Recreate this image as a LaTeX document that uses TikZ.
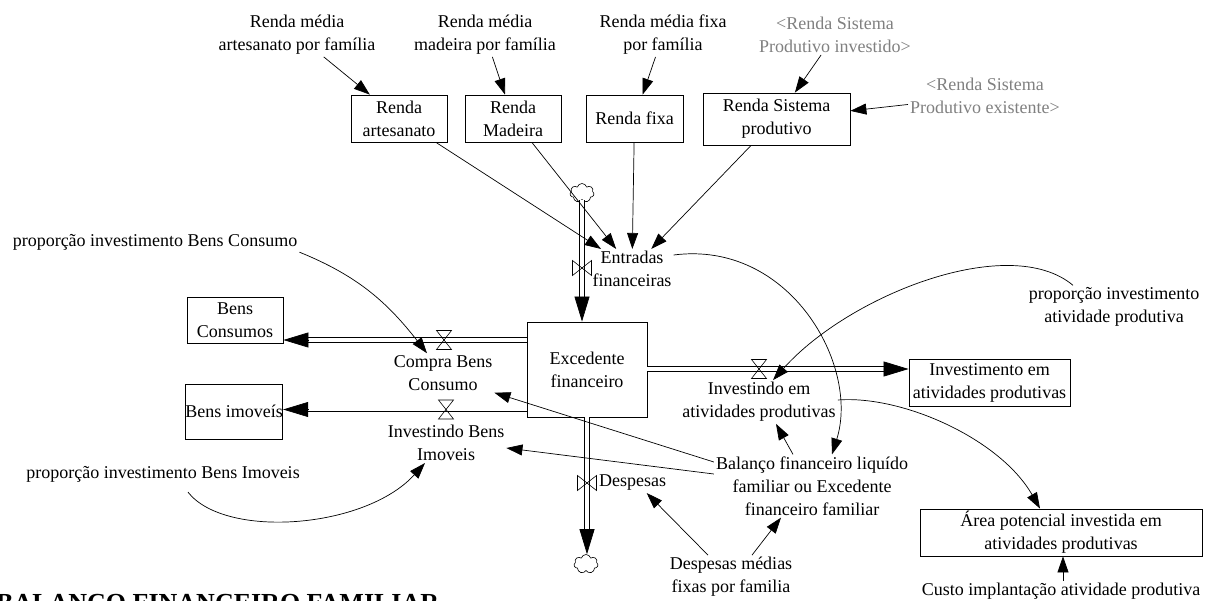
\documentclass[tikz,border=0pt]{standalone}
\usepackage{fontspec}
\setmainfont{Liberation Serif}
\usetikzlibrary{arrows.meta,shapes.symbols,calc}
\definecolor{vgray}{RGB}{128,128,128}
\tikzset{
 valveh/.pic={\draw[line width=0.6pt] (-7.5,9.5) -- (7.5,9.5) -- (-7.5,-9.5) -- (7.5,-9.5) -- cycle;},
 valvev/.pic={\draw[line width=0.6pt] (-9.5,7.5) -- (-9.5,-7.5) -- (9.5,7.5) -- (9.5,-7.5) -- cycle;}
}
\begin{document}
\begin{tikzpicture}[x=1pt,y=1pt,
  every node/.style={font=\fontsize{18}{23}\selectfont, align=center, inner sep=2pt},
  ghost/.style={text=vgray},
  stock/.style={draw, line width=0.8pt, inner sep=0pt},
  link/.style={line width=0.7pt, -{Triangle[length=16pt,width=11pt]}},
  pipe/.style={line width=0.8pt, double=white, double distance=4pt},
  pipetip/.style={line width=0.7pt, -{Triangle[length=25pt,width=15pt]}},
  cloudnode/.style={cloud, draw, cloud puffs=7, aspect=1.3, minimum width=24pt, minimum height=19pt, inner sep=0pt, line width=0.6pt}
]
\useasboundingbox (0,0) rectangle (1205,-601);

% auxiliary (top) texts
\node (ram) at (297,-35) {Renda média\\artesanato por família};
\node (rmm) at (485,-35) {Renda média\\madeira por família};
\node (rmf) at (663,-35) {Renda média fixa\\por família};
\node[ghost] (rspi) at (835,-35) {<Renda Sistema\\Produtivo investido>};
\node[ghost] (rspe) at (985,-96) {<Renda Sistema\\Produtivo existente>};

% income boxes
\node[stock, minimum width=96pt, minimum height=47pt] (ra) at (399,-118.5) {Renda\\artesanato};
\node[stock, minimum width=96pt, minimum height=47pt] (rmad) at (513,-118.5) {Renda\\Madeira};
\node[stock, minimum width=97pt, minimum height=47pt] (rfixa) at (634.5,-118.5) {Renda fixa};
\node[stock, minimum width=147pt, minimum height=52pt] (rsp) at (776.5,-119) {Renda Sistema\\produtivo};

% stocks
\node[stock, minimum width=120pt, minimum height=95pt] (exc) at (587,-369.5) {Excedente\\financeiro};
\node[stock, minimum width=96pt, minimum height=46pt] (bc) at (235,-320) {Bens\\Consumos};
\node[stock, minimum width=96pt, minimum height=55pt] (bi) at (234,-411.5) {Bens imoveís};
\node[stock, minimum width=161pt, minimum height=47pt] (inv) at (989.5,-382.5) {Investimento em\\atividades produtivas};
\node[stock, minimum width=282pt, minimum height=47pt] (area) at (1061,-532.5) {Área potencial investida em\\atividades produtivas};

% clouds
\node[cloudnode] (cloud1) at (582,-193) {};
\node[cloudnode] (cloud2) at (586,-564) {};

% valves
\coordinate (v1) at (582,-268);
\coordinate (v2) at (444,-340);
\coordinate (v3) at (446,-409.5);
\coordinate (v4) at (587,-483);
\coordinate (v5) at (759,-369);

% flow labels and other variables
\node (entr) at (632,-269) {Entradas\\financeiras};
\node (compra) at (443,-373) {Compra Bens\\Consumo};
\node (ibi) at (446,-443) {Investindo Bens\\Imoveis};
\node (iap) at (759,-402) {Investindo em\\atividades produtivas};
\node[anchor=west] (desp) at (597,-483) {Despesas};
\node (pbc) at (155,-242) {proporção investimento Bens Consumo};
\node (pbi) at (163,-474) {proporção investimento Bens Imoveis};
\node (pap) at (1114,-307) {proporção investimento\\atividade produtiva};
\node (bal) at (812,-486) {Balanço financeiro liquído\\familiar ou Excedente\\financeiro familiar};
\node (dm) at (731,-577) {Despesas médias\\fixas por familia};
\node (custo) at (1061,-591) {Custo implantação atividade produtiva};
\node[font=\fontsize{26}{30}\selectfont\bfseries, anchor=base west, inner sep=0pt] (title) at (-4,-611) {BALANÇO FINANCEIRO FAMILIAR};

% pipes
\draw[pipe, shorten >=24pt] (cloud1.south) -- (cloud1.south |- exc.north);
\draw[pipetip] ($(cloud1.south |- exc.north)+(0,25)$) -- (cloud1.south |- exc.north);
\draw[pipe, shorten >=24pt] (exc.west |- v2) -- (bc.east |- v2);
\draw[pipetip] ($(bc.east |- v2)+(25,0)$) -- (bc.east |- v2);
\draw[pipe, shorten >=24pt] (exc.west |- v3) -- (bi.east |- v3);
\draw[pipetip] ($(bi.east |- v3)+(25,0)$) -- (bi.east |- v3);
\draw[pipe, shorten >=24pt] (exc.east |- v5) -- (inv.west |- v5);
\draw[pipetip] ($(inv.west |- v5)+(-25,0)$) -- (inv.west |- v5);
\draw[pipe, shorten >=24pt] (v4 |- exc.south) -- (v4 |- cloud2.north);
\draw[pipetip] ($(v4 |- cloud2.north)+(0,25)$) -- (v4 |- cloud2.north);

\pic at (v1) {valvev};
\pic at (v4) {valvev};
\pic at (v2) {valveh};
\pic at (v3) {valveh};
\pic at (v5) {valveh};

% information links
\draw[link] (ram) -- (ra);
\draw[link] (rmm) -- (rmad);
\draw[link] (rmf) -- (rfixa);
\draw[link] (rspi) -- (rsp);
\draw[link] (rspe) -- (rsp);
\draw[link] (ra) -- (entr);
\draw[link] (rmad) -- (entr);
\draw[link] (rfixa) -- (entr);
\draw[link] (rsp) -- (entr);
\draw[link] ([yshift=14pt]entr.east) .. controls +(116,15) and +(28,89) .. ([xshift=20pt]bal.north);
\draw[link] (pbc.south east) to[out=-22,in=128] ([xshift=-16pt]compra.north);
\draw[link] ([xshift=25pt,yshift=-8pt]pbi.south) .. controls +(37,-47) and +(-60,-66) .. ([xshift=-21pt]ibi.south);
\draw[link] ([xshift=-41pt]pap.north) .. controls +(-63,53) and +(77,86) .. ([xshift=14pt]iap.north);
\draw[link] ([yshift=2pt]iap.east) .. controls +(64,5) and +(-40,70) .. ([xshift=-21pt]area.north);
\draw[link] ([yshift=24pt]bal.west) -- (compra.south east);
\draw[link] ([yshift=12pt]bal.west) -- ([yshift=-5pt]ibi.east);
\draw[link] ([xshift=-19pt]bal.north) -- ([xshift=17pt]iap.south);
\draw[link] ([xshift=-23pt]dm.north) -- ([xshift=14pt]desp.south);
\draw[link] ([xshift=21pt]dm.north) -- ([xshift=-31pt]bal.south);
\draw[link] ([xshift=2pt]custo.north) -- ([xshift=2pt]area.south);
\end{tikzpicture}
\end{document}
